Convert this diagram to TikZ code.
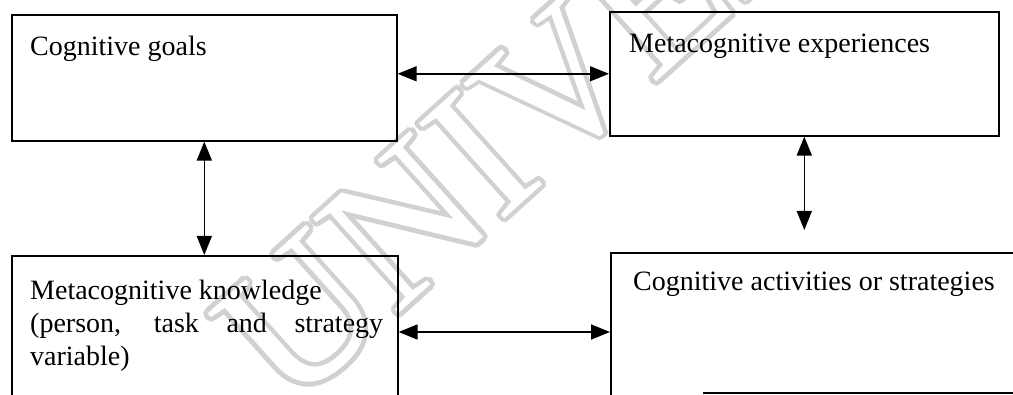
\documentclass[tikz,border=0pt]{standalone}
\usepackage{fontspec}
\setmainfont{Liberation Serif}
\usetikzlibrary{arrows.meta,calc}

\tikzset{
  box/.style={draw, line width=1.6pt, rectangle, inner sep=0pt, anchor=north west},
  label/.style={font=\fontsize{28}{32}\selectfont, inner sep=0pt, anchor=base west},
  arr/.style={line width=1.6pt, {Triangle[length=19pt,width=15pt]}-{Triangle[length=19pt,width=15pt]}},
  wmark/.style={font=\fontsize{195}{195}\selectfont, inner sep=0pt, anchor=base west, rotate=42},
}

\begin{document}
\begin{tikzpicture}[x=1pt,y=-1pt]
\useasboundingbox (0,0) rectangle (1013,395);
\clip (0,0) rectangle (1013,395);

% pale outlined watermark lettering behind the chart
\foreach \a in {0,30,...,330}{
  \node[wmark, text=black!18] at ($(290,412)+(\a:4.5)$) {UNIVERSITY};
}
\node[wmark, text=white] (wm) at (290,412) {UNIVERSITY};

% boxes
\node[box, minimum width=385pt, minimum height=126pt] (goals) at (11,14) {};
\node[box, minimum width=389pt, minimum height=124pt] (exp) at (609,11) {};
\node[box, minimum width=386pt, minimum height=170pt] (know) at (11,255) {};
\node[box, minimum width=420pt, minimum height=170pt] (act) at (610,252) {};
\coordinate (brk) at (703,393);
\draw[line width=1.6pt] (brk) -- (brk -| act.east);

% box texts
\node[label] (t1) at (30,56) {Cognitive goals};
\node[label] (t2) at (629,53) {Metacognitive experiences};
\node[label] (t3a) at (30,300) {Metacognitive knowledge};
\node[label] (t3b) at (30,333) {\makebox[353pt][s]{(person, task and strategy}};
\node[label] (t3c) at (30,366) {variable)};
\node[label] (t4) at (633,291) {Cognitive activities or strategies};

% connectors
\draw[arr] (goals.east |- exp.west) -- (exp.west);
\draw[arr] (goals.south) -- (goals.south |- know.north);
\coordinate (gap) at (803,230);
\draw[arr] (exp.south) -- (exp.south |- gap);
\draw[arr] (know.east |- 0,332) -- (act.west |- 0,332);
\end{tikzpicture}
\end{document}
